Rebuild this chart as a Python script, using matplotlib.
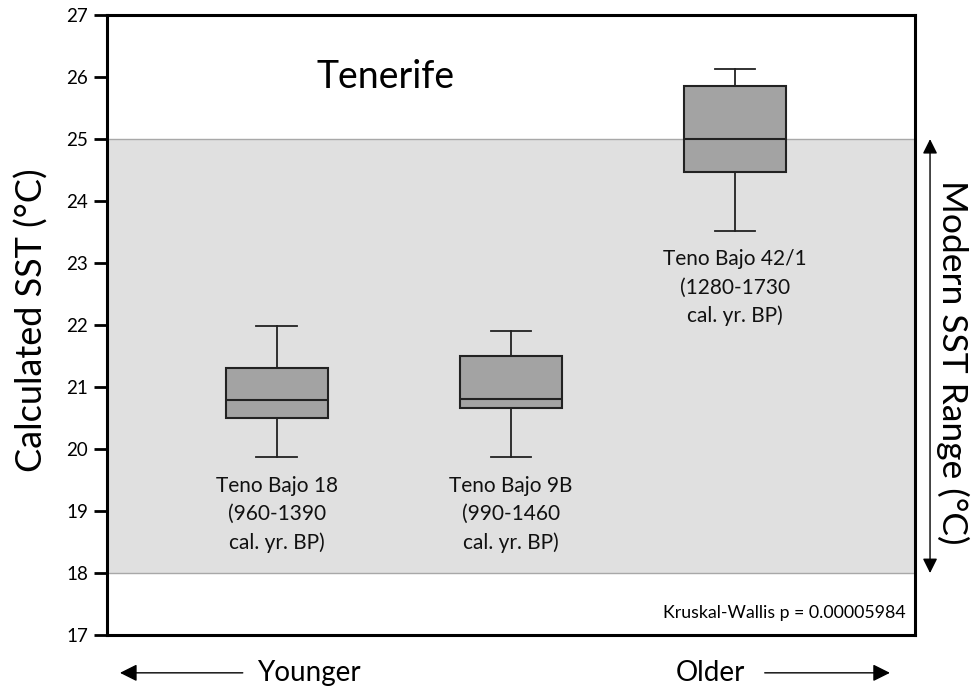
import matplotlib
matplotlib.use("Agg")
import matplotlib.pyplot as plt

plt.rcParams['font.family'] = ['Lato', 'DejaVu Sans']

# Data
sites = ["Teno Bajo 18\n(960-1390\ncal. yr. BP)",
         "Teno Bajo 9B\n(990-1460\ncal. yr. BP)",
         "Teno Bajo 42/1\n(1280-1730\ncal. yr. BP)"]
whis_low = [19.87, 19.87, 23.52]
q1 = [20.50, 20.66, 24.47]
median = [20.79, 20.81, 25.00]
q3 = [21.31, 21.50, 25.85]
whis_high = [21.99, 21.91, 26.13]
modern_range = (18.0, 25.0)
yticks = [17, 18, 19, 20, 21, 22, 23, 24, 25, 26, 27]

fig = plt.figure(figsize=(9.73, 6.88), dpi=100)
ax = fig.add_axes([0.110, 0.077, 0.8304, 0.901])

ax.axhspan(modern_range[0], modern_range[1], color='#e0e0e0', zorder=0, lw=0)
for v in modern_range:
    ax.axhline(v, color='#a8a8a8', lw=1.0, zorder=1)

stats = []
for i in range(len(sites)):
    stats.append(dict(med=median[i], q1=q1[i], q3=q3[i],
                      whislo=whis_low[i], whishi=whis_high[i], fliers=[]))
positions = [1, 2, 2.957]
ax.bxp(stats, positions=positions, widths=0.436, capwidths=0.175,
       showfliers=False, patch_artist=True,
       boxprops=dict(facecolor='#a3a3a3', edgecolor='#222222', lw=1.5),
       medianprops=dict(color='#222222', lw=1.5),
       whiskerprops=dict(color='#222222', lw=1.3),
       capprops=dict(color='#222222', lw=1.3), zorder=3)

for p, lab, lo in zip(positions, sites, whis_low):
    ax.text(p, lo - 0.3, lab, ha='center', va='top', fontsize=15,
            linespacing=1.5, color='#111111')

ax.set_xlim(0.274, 3.726)
ax.set_ylim(17, 27)
ax.set_yticks(yticks)
ax.set_xticks([])
ax.tick_params(axis='y', direction='out', length=9.5, width=2, labelsize=13.5, pad=4)
for s in ax.spines.values():
    s.set_linewidth(2.2)

ax.set_ylabel("Calculated SST (°C)", fontsize=26)
ax.yaxis.set_label_coords(-0.072, 0.508)

ax.text(0.345, 0.90, "Tenerife", transform=ax.transAxes, ha='center', va='center', fontsize=27)
ax.text(0.988, 0.027, "Kruskal-Wallis p = 0.00005984", transform=ax.transAxes,
        ha='right', va='baseline', fontsize=12.8)

# Modern SST range arrow and label
trans = ax.get_yaxis_transform()
ax.annotate("", xy=(1.0186, modern_range[1]), xytext=(1.0186, modern_range[0]),
            xycoords=trans, textcoords=trans,
            arrowprops=dict(arrowstyle='<|-|>', color='black', lw=1.0,
                            mutation_scale=22, shrinkA=0, shrinkB=0),
            annotation_clip=False)
ax.text(1.047, 0.44, "Modern SST Range (°C)", transform=ax.transAxes,
        rotation=270, ha='center', va='center', fontsize=25.5)

# Younger / Older arrows
ax.annotate("", xy=(0.016, -0.061), xytext=(0.168, -0.061),
            xycoords='axes fraction', textcoords='axes fraction',
            arrowprops=dict(arrowstyle='-|>', color='black', lw=1.0,
                            mutation_scale=26, shrinkA=0, shrinkB=0),
            annotation_clip=False)
ax.text(0.186, -0.061, "Younger", transform=ax.transAxes, ha='left', va='center', fontsize=20)
ax.annotate("", xy=(0.969, -0.061), xytext=(0.814, -0.061),
            xycoords='axes fraction', textcoords='axes fraction',
            arrowprops=dict(arrowstyle='-|>', color='black', lw=1.0,
                            mutation_scale=26, shrinkA=0, shrinkB=0),
            annotation_clip=False)
ax.text(0.79, -0.061, "Older", transform=ax.transAxes, ha='right', va='center', fontsize=20)

fig.savefig("out.png", dpi=100)
